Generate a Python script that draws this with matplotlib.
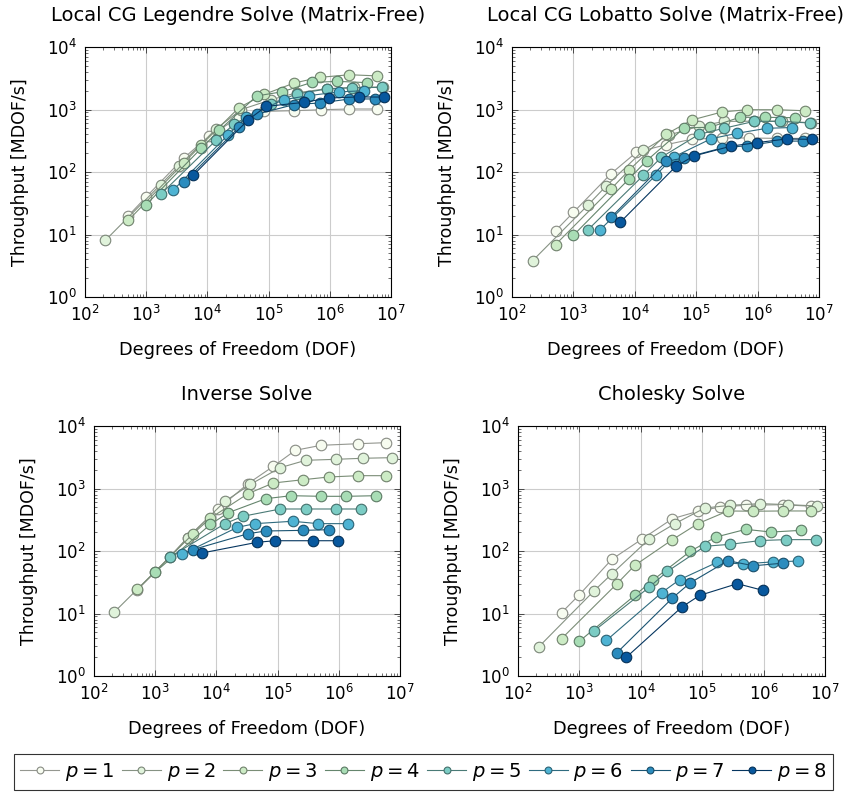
import matplotlib
matplotlib.use("Agg")
import matplotlib.pyplot as plt
from matplotlib.colors import to_rgb
from matplotlib.ticker import LogLocator, NullFormatter

# DOF per polynomial degree (shared grids)
dof_p1 = [512, 1000, 4096, 10648, 32768, 85184, 262144, 729000, 2097152, 5832000]
dof_p1_direct = [512, 1000, 3375, 10648, 32768, 85184, 195112, 512000, 2097152, 5832000]
dof_p2 = [216, 1728, 3375, 13824, 35937, 110592, 287496, 884736, 2460375, 7414875]
dof_p3 = [512, 4096, 8000, 32768, 85184, 262144, 681472, 2097152, 5832000]
dof_p4 = [1000, 8000, 15625, 64000, 166375, 512000, 1331000, 4096000]
dof_p5 = [1728, 13824, 27000, 110592, 287496, 884736, 2299968, 7077888]
dof_p6 = [2744, 21952, 42875, 175616, 456533, 1404928, 3652264]
dof_p7 = [4096, 32768, 64000, 262144, 681472, 2097152, 5451776]
dof_p8 = [5832, 46656, 91125, 373248, 970299, 2985984, 7762392]

# throughput [MDOF/s], one list per p
legendre_tp = [
    [20, 40, 167, 373, 750, 935, 957, 993, 1018, 1018],
    [8.1, 63, 123, 488, 1000, 1436, 1850, 2150, 2250, 2300],
    [16.9, 139, 273, 1070, 1750, 2655, 3266, 3600, 3450],
    [30, 242, 464, 1650, 1920, 2715, 2820, 2690],
    [44, 321, 580, 1240, 1770, 2130, 2230, 2260],
    [51, 395, 760, 1436, 1670, 1910, 2000],
    [68, 519, 840, 1200, 1270, 1473, 1475],
    [88, 687, 1120, 1300, 1528, 1590, 1580],
]
lobatto_tp = [
    [11.5, 22.6, 94, 207, 274, 335, 350, 350, 345, 345],
    [3.8, 29.6, 59, 222, 390, 538, 645, 650, 650, 615],
    [6.9, 53.5, 106, 405, 680, 912, 993, 993, 955],
    [9.7, 77, 152, 510, 519, 750, 750, 740],
    [11.9, 88.5, 172, 400, 503, 647, 647, 608],
    [12, 88.5, 174, 341, 415, 500, 515],
    [18.8, 148, 168, 242, 264, 310, 313],
    [15.8, 123, 180, 260, 295, 338, 333],
]
inverse_tp = [
    [24, 46, 163, 470, 1195, 2265, 4085, 4910, 5210, 5410],
    [10.6, 80, 163, 624, 1165, 2155, 2825, 2930, 3045, 3115],
    [24.4, 186, 337, 826, 1225, 1383, 1528, 1604, 1604],
    [46, 267, 410, 687, 767, 750, 750, 767],
    [80, 274, 359, 470, 470, 470, 470],
    [88.5, 239, 274, 299, 274, 274],
    [105, 189, 209, 214, 219],
    [93, 138, 146, 146, 146],
]
cholesky_tp = [
    [10.3, 20, 73.6, 157, 329, 431, 505, 540, 550, 520],
    [2.9, 23, 43, 157, 274, 488, 538, 573, 552, 525],
    [3.95, 30, 59, 152, 274, 437, 433, 437, 437],
    [3.6, 19.5, 34, 99, 167, 222, 201, 214],
    [5.25, 26.5, 47, 119, 128, 147, 152, 152],
    [3.7, 21.6, 34.8, 66, 62, 67, 69],
    [2.36, 17.7, 31, 70, 58, 64],
    [2.0, 12.7, 19.5, 30, 23.5],
]

titles = [
    "Local CG Legendre Solve (Matrix-Free)",
    "Local CG Lobatto Solve (Matrix-Free)",
    "Inverse Solve",
    "Cholesky Solve",
]
colors = ["#f7fcf0", "#e0f3db", "#ccebc5", "#a8ddb5",
          "#7bccc4", "#4eb3d3", "#2b8cbe", "#08589e"]

dof_mf = [dof_p1, dof_p2, dof_p3, dof_p4, dof_p5, dof_p6, dof_p7, dof_p8]
dof_direct = [dof_p1_direct] + dof_mf[1:]
panels = [
    (legendre_tp, dof_mf),
    (lobatto_tp, dof_mf),
    (inverse_tp, dof_direct),
    (cholesky_tp, dof_direct),
]

W, H = 847, 792
# axes boxes in pixels: left, top, right, bottom
boxes = [
    (85, 47, 391, 297),
    (512, 47, 819, 297),
    (94, 426, 400, 676),
    (518, 426, 825, 676),
]


def shade(c, f=0.55):
    return tuple(v * f for v in to_rgb(c))


plt.rcParams["font.family"] = ["DejaVu Sans"]
plt.rcParams["mathtext.fontset"] = "dejavusans"

fig = plt.figure(figsize=(W / 100, H / 100), dpi=100)

handles = []
for (tp, dofs), title, (l, t, r, b) in zip(panels, titles, boxes):
    ax = fig.add_axes([l / W, 1 - b / H, (r - l) / W, (b - t) / H])
    for k, (x, y) in enumerate(zip(dofs, tp)):
        h, = ax.plot(x[:len(y)], y, "-o", color=shade(colors[k], 0.6),
                     lw=0.8, ms=7.6, mfc=colors[k], mec=shade(colors[k], 0.55),
                     mew=0.8, zorder=3 + k, label=f"$p = {k + 1}$")
        if len(handles) < 8:
            handles.append(h)
    ax.set_xscale("log")
    ax.set_yscale("log")
    ax.set_xlim(1e2, 1e7)
    ax.set_ylim(1e0, 1e4)
    ax.xaxis.set_major_locator(LogLocator(base=10, numticks=10))
    ax.yaxis.set_major_locator(LogLocator(base=10, numticks=10))
    ax.xaxis.set_minor_locator(LogLocator(base=10, subs=range(2, 10), numticks=20))
    ax.yaxis.set_minor_locator(LogLocator(base=10, subs=range(2, 10), numticks=20))
    ax.xaxis.set_minor_formatter(NullFormatter())
    ax.yaxis.set_minor_formatter(NullFormatter())
    ax.grid(True, which="major", color="#cccccc", lw=0.8, zorder=0)
    ax.tick_params(which="both", direction="in", top=True, right=True,
                   labelsize=12, color="#333333")
    ax.tick_params(which="major", length=4.5, width=0.6)
    ax.tick_params(which="minor", length=2.2, width=0.5)
    ax.tick_params(axis="x", which="major", pad=6)
    ax.tick_params(axis="y", which="major", pad=6)
    for s in ax.spines.values():
        s.set_linewidth(0.8)
    ax.set_title(title, fontsize=14, pad=19)
    ax.set_xlabel("Degrees of Freedom (DOF)", fontsize=12.8, labelpad=11)
    ax.set_ylabel("Throughput [MDOF/s]", fontsize=12.5, labelpad=13)

leg = fig.legend(handles=handles, loc="lower center", ncol=8,
                 bbox_to_anchor=(0.5, 0.0), fontsize=14, frameon=True,
                 fancybox=False, edgecolor="black", handlelength=2.0,
                 handletextpad=0.3, columnspacing=0.4, borderpad=0.35,
                 borderaxespad=0.1, markerscale=0.65)
leg.get_frame().set_linewidth(0.8)

fig.savefig("out.png", dpi=100)
